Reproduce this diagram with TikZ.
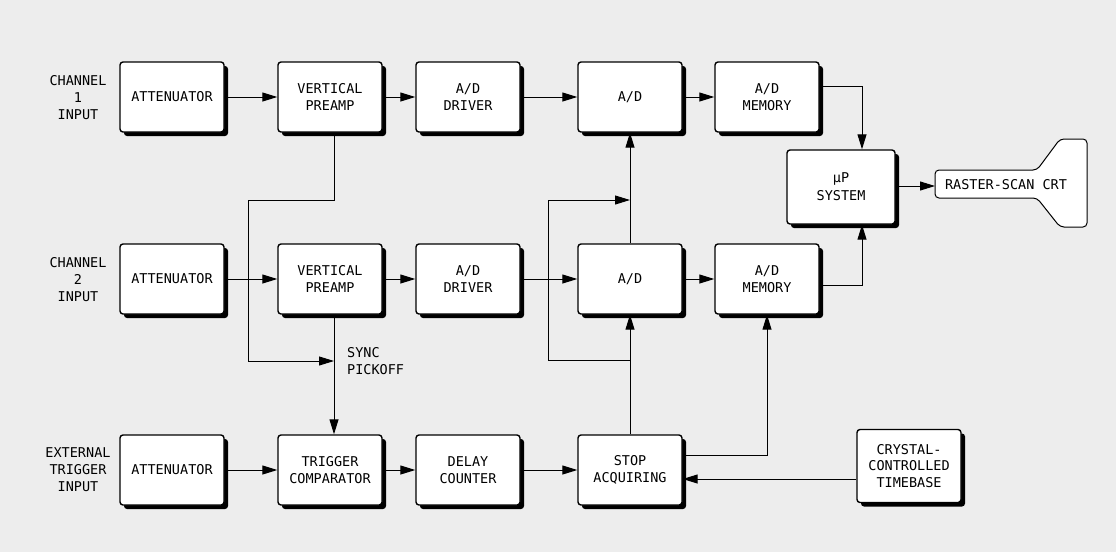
\documentclass[tikz,border=0pt]{standalone}
\usepackage{fontspec}
\newfontfamily\plotfont{DejaVu Sans Mono}
\usetikzlibrary{arrows.meta,shadows,calc}
\begin{document}
\begin{tikzpicture}[x=1pt,y=-1pt,
  blk/.style={draw, line width=1.4pt, rounded corners=3pt, fill=white,
    minimum width=104pt, minimum height=70pt, inner sep=0pt, align=center,
    font=\plotfont\fontsize{13.5}{16.5}\selectfont,
    drop shadow={shadow xshift=4pt, shadow yshift=-4pt, fill=black, opacity=1}},
  lbl/.style={align=center, inner sep=0pt, font=\plotfont\fontsize{13.5}{17}\selectfont},
  wire/.style={line width=1pt},
  arr/.style={line width=1pt, -{Triangle[length=15pt,width=9pt]}}]
\useasboundingbox (0,0) rectangle (1116,552);
\fill[black!7] (0,0) rectangle (1116,552);
% row 1
\node[lbl] (in1) at (78,98) {CHANNEL\\1\\INPUT};
\node[blk] (att1) at (172,97) {ATTENUATOR};
\node[blk] (vp1) at (330,97) {VERTICAL\\PREAMP};
\node[blk] (add1) at (468,97) {A/D\\DRIVER};
\node[blk] (ad1) at (630,97) {A/D};
\node[blk] (mem1) at (767,97) {A/D\\MEMORY};
% row 2
\node[lbl] (in2) at (78,280) {CHANNEL\\2\\INPUT};
\node[blk] (att2) at (172,279) {ATTENUATOR};
\node[blk] (vp2) at (330,279) {VERTICAL\\PREAMP};
\node[blk] (add2) at (468,279) {A/D\\DRIVER};
\node[blk] (ad2) at (630,279) {A/D};
\node[blk] (mem2) at (767,279) {A/D\\MEMORY};
% row 3
\node[lbl] (in3) at (78,470) {EXTERNAL\\TRIGGER\\INPUT};
\node[blk] (att3) at (172,470) {ATTENUATOR};
\node[blk] (trig) at (330,470) {TRIGGER\\COMPARATOR};
\node[blk] (dly) at (468,470) {DELAY\\COUNTER};
\node[blk] (stop) at (630,470) {STOP\\ACQUIRING};
\node[blk, minimum height=73pt, font=\plotfont\fontsize{13.5}{16.5}\selectfont] (cryst) at (909,466) {CRYSTAL-\\CONTROLLED\\TIMEBASE};
% microprocessor
\node[blk, minimum width=108pt, minimum height=74pt, font=\plotfont\fontsize{13.5}{18}\selectfont] (up) at (841,187) {μP\\SYSTEM};
% CRT
\draw[line width=1pt, fill=white, rounded corners=4pt]
  (935,170) -- (1037,170) -- (1060,139) -- (1087,139) -- (1087,227) -- (1060,227) -- (1037,198) -- (935,198) -- cycle;
\node[lbl] (crt) at (1006,185) {RASTER-SCAN CRT};
\coordinate (crtin) at (935,186);
% sync label
\node[lbl, anchor=west, align=left] (syn) at (347,361) {SYNC\\PICKOFF};
% row connections
\draw[arr] (att1) -- (vp1);
\draw[arr] (vp1) -- (add1);
\draw[arr] (add1) -- (ad1);
\draw[arr] (ad1) -- (mem1);
\draw[arr] (att2) -- (vp2);
\draw[arr] (vp2) -- (add2);
\draw[arr] (add2) -- (ad2);
\draw[arr] (ad2) -- (mem2);
\draw[arr] (att3) -- (trig);
\draw[arr] (trig) -- (dly);
\draw[arr] (dly) -- (stop);
% memories to microprocessor
\draw[arr] ([yshift=11pt]mem1.east) -| ([xshift=21pt]up.north);
\draw[arr] ([yshift=-6pt]mem2.east) -| ([xshift=21pt]up.south);
\draw[arr] (up.east |- crtin) -- (crtin);
% channel 1 to sync
\coordinate (j1) at (248,200);
\coordinate (sj) at (334,361);
\draw[arr] ([xshift=4pt]vp1.south) |- (j1) |- (sj);
\draw[arr] ([xshift=4pt]vp2.south) -- ([xshift=4pt]trig.north);
% stop acquiring to A/D
\draw[arr] (stop.north) -- (ad2.south);
\draw[arr] (ad2.north) -- (ad1.south);
\coordinate (lb) at (630,360);
\coordinate (lc) at (548,360);
\coordinate (lt) at (630,200);
\draw[arr] (lb) -- (lc) |- (lt);
% stop acquiring to memory
\draw[arr] ([yshift=15pt]stop.east) -| (mem2.south);
% timebase
\coordinate (cin) at ([yshift=-9pt]stop.east);
\draw[arr] (cin -| cryst.west) -- (cin);
\end{tikzpicture}
\end{document}
